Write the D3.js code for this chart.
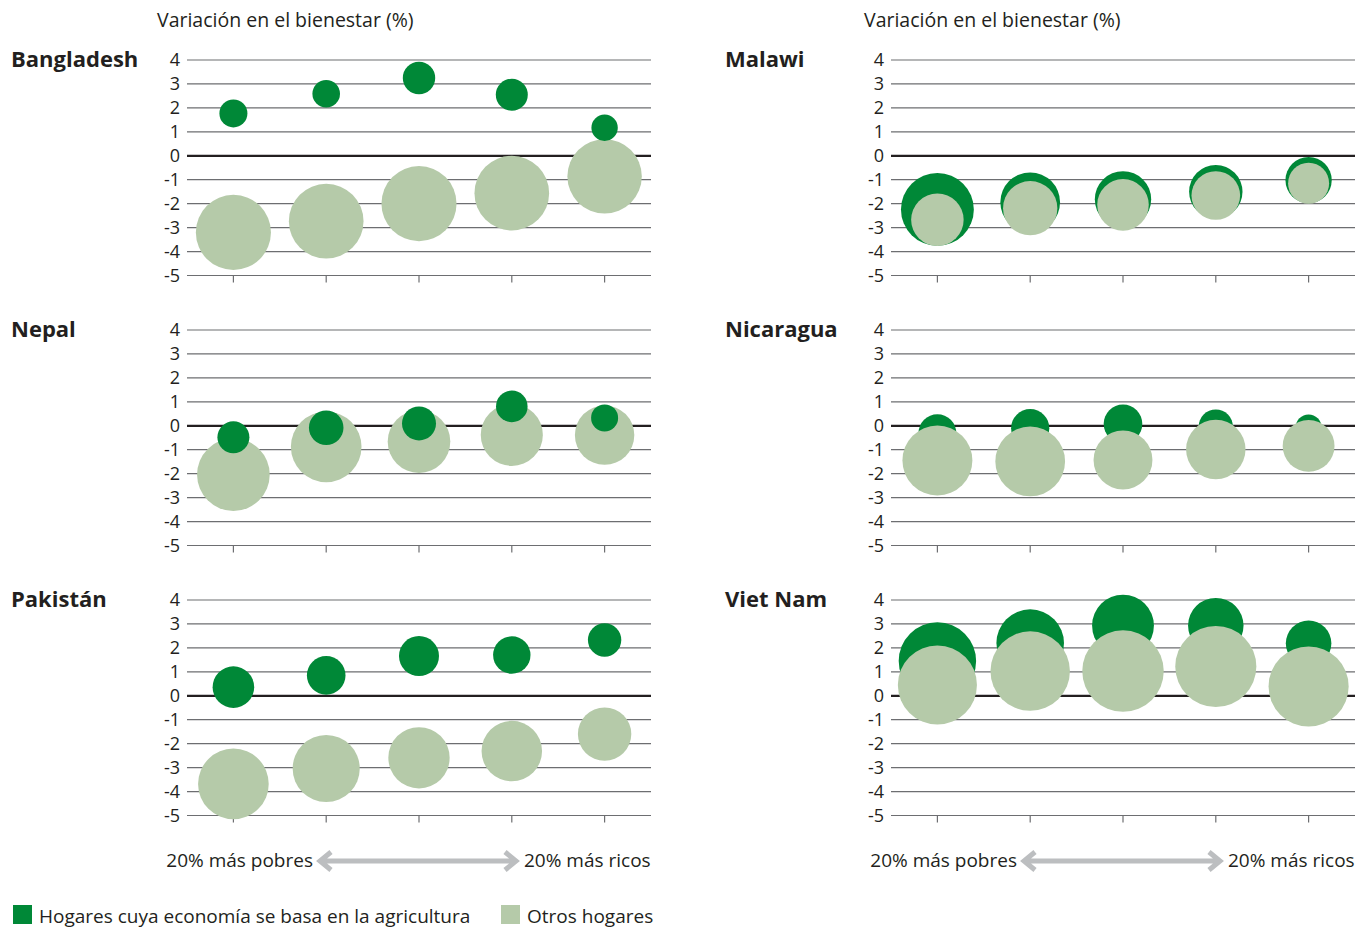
<!DOCTYPE html>
<html>
<head>
<meta charset="utf-8">
<script src="https://cdn.jsdelivr.net/npm/d3@7"></script>
<style>
  body { margin: 0; background: #fff; }
  text { fill: #231f20; font-family: "Open Sans", "Noto Sans", sans-serif; }
</style>
</head>
<body>
<div id="chart"></div>
<script>
//* ------------------------------ DATA ---------------------------------------- //
const countries = ["Bangladesh", "Nepal", "Pakistán", "Malawi", "Nicaragua", "Viet Nam"];
const quintiles = ["Q1", "Q2", "Q3", "Q4", "Q5"];
const yTicks = [4, 3, 2, 1, 0, -1, -2, -3, -4, -5];

// change in welfare (%), by quintile, poorest -> richest
const agriValues = [
  [1.77, 2.59, 3.25, 2.55, 1.17],
  [-0.48, -0.08, 0.10, 0.81, 0.33],
  [0.36, 0.85, 1.66, 1.70, 2.33],
  [-2.24, -1.94, -1.82, -1.50, -1.02],
  [-0.31, -0.10, 0.08, -0.04, -0.07],
  [1.45, 2.20, 2.93, 2.93, 2.19]
];
const otherValues = [
  [-3.20, -2.73, -2.00, -1.56, -0.86],
  [-2.04, -0.88, -0.66, -0.38, -0.39],
  [-3.68, -3.04, -2.59, -2.31, -1.60],
  [-2.67, -2.19, -2.05, -1.66, -1.15],
  [-1.45, -1.49, -1.43, -0.99, -0.84],
  [0.45, 1.03, 1.03, 1.22, 0.39]
];
// share of households (%) -> bubble area
const agriShares = [
  [2.42, 2.35, 3.24, 3.16, 2.15],
  [3.16, 3.69, 3.57, 3.08, 2.25],
  [5.34, 4.60, 4.94, 4.32, 3.44],
  [16.4, 11.0, 9.8, 8.8, 6.6],
  [4.41, 4.50, 4.60, 3.65, 2.09],
  [18.5, 14.1, 11.8, 9.5, 6.4]
];
const otherShares = [
  [17.4, 17.2, 17.4, 17.2, 17.1],
  [16.3, 15.4, 12.1, 11.9, 10.9],
  [15.4, 13.9, 11.6, 11.3, 8.8],
  [8.5, 9.1, 8.2, 7.3, 5.2],
  [15.1, 15.0, 10.7, 10.9, 8.3],
  [19.3, 19.5, 20.5, 20.3, 19.8]
];

const axisTitle = "Variación en el bienestar (%)";
const poorLabel = "20% más pobres";
const richLabel = "20% más ricos";
const legendLabels = ["Hogares cuya economía se basa en la agricultura", "Otros hogares"];

//* ------------------------------ CONSTANTS ----------------------------------- //
const width = 1362, height = 929;
const darkGreen = "#008837", lightGreen = "#b5caa9", arrowGrey = "#bcbec0";
const colX = [187, 891];        // left edge of plot area per column
const plotW = 464;
const rowY = [60, 330, 600];    // y of the "4" gridline per row
const plotH = 215.5;

const svg = d3.select("#chart").append("svg")
  .attr("width", width)
  .attr("height", height);

const x = d3.scaleBand().domain(quintiles).range([0, plotW]);
const y = d3.scaleLinear().domain([-5, 4]).range([plotH, 0]);
const r = d3.scaleSqrt().domain([0, 100]).range([0, 90]);

//* ------------------------------ FUNCTIONS ----------------------------------- //
function drawPanel(i) {
  const col = i < 3 ? 0 : 1;
  const row = i % 3;
  const g = svg.append("g")
    .attr("transform", `translate(${colX[col]},${rowY[row]})`);

  // country name
  g.append("text")
    .attr("x", col === 0 ? 11 - colX[0] : 725 - colX[1])
    .attr("y", 7)
    .style("font-weight", "bold")
    .style("font-size", "22px")
    .text(countries[i]);

  // gridlines
  g.selectAll("line.grid").data(yTicks).join("line")
    .attr("class", "grid")
    .attr("x1", 0).attr("x2", plotW)
    .attr("y1", d => y(d)).attr("y2", d => y(d))
    .attr("stroke", d => d === 0 ? "#231f20" : "#6d6e71")
    .attr("stroke-width", d => d === 0 ? 2.2 : 1.2);

  g.selectAll("text.tick").data(yTicks).join("text")
    .attr("class", "tick")
    .attr("x", -7)
    .attr("y", d => y(d))
    .attr("dy", "0.36em")
    .attr("text-anchor", "end")
    .style("font-size", "18px")
    .text(d => d);

  // small ticks under the -5 line
  g.selectAll("line.xtick").data(quintiles).join("line")
    .attr("class", "xtick")
    .attr("x1", d => x(d) + x.bandwidth() / 2)
    .attr("x2", d => x(d) + x.bandwidth() / 2)
    .attr("y1", y(-5)).attr("y2", y(-5) + 7)
    .attr("stroke", "#6d6e71")
    .attr("stroke-width", 1.2);

  const agri = quintiles.map((q, j) => ({q, v: agriValues[i][j], s: agriShares[i][j], c: darkGreen}));
  const other = quintiles.map((q, j) => ({q, v: otherValues[i][j], s: otherShares[i][j], c: lightGreen}));
  // left column: agricultural bubbles in front; right column: other households in front
  const layers = col === 0 ? [other, agri] : [agri, other];

  layers.forEach(layer => {
    g.append("g").selectAll("circle").data(layer).join("circle")
      .attr("cx", d => x(d.q) + x.bandwidth() / 2)
      .attr("cy", d => y(d.v))
      .attr("r", d => r(d.s))
      .attr("fill", d => d.c);
  });
}

function drawFooter(col) {
  const x0 = colX[col];
  const yMid = 861;
  svg.append("text")
    .attr("x", x0 + 126).attr("y", 867)
    .attr("text-anchor", "end")
    .style("font-size", "19px")
    .text(poorLabel);
  svg.append("text")
    .attr("x", x0 + 337).attr("y", 867)
    .style("font-size", "19px")
    .text(richLabel);

  const a0 = x0 + 131, a1 = x0 + 331;
  const path = d3.path();
  path.moveTo(a0 + 1, yMid); path.lineTo(a1 - 1, yMid);
  path.moveTo(a0 + 13, yMid - 9); path.lineTo(a0 + 2, yMid); path.lineTo(a0 + 13, yMid + 9);
  path.moveTo(a1 - 13, yMid - 9); path.lineTo(a1 - 2, yMid); path.lineTo(a1 - 13, yMid + 9);
  svg.append("path")
    .attr("d", path.toString())
    .attr("fill", "none")
    .attr("stroke", arrowGrey)
    .attr("stroke-width", 5)
    .attr("stroke-linejoin", "miter");
}

//* ------------------------------ DRAW ---------------------------------------- //
[157, 864].forEach(tx => {
  svg.append("text")
    .attr("x", tx).attr("y", 27)
    .style("font-size", "19.5px")
    .text(axisTitle);
});

countries.forEach((c, i) => drawPanel(i));
[0, 1].forEach(drawFooter);

// legend
const legend = svg.append("g");
[[13, darkGreen, legendLabels[0]], [501, lightGreen, legendLabels[1]]].forEach(([lx, c, t]) => {
  legend.append("rect").attr("x", lx).attr("y", 905).attr("width", 19).attr("height", 19).attr("fill", c);
  legend.append("text").attr("x", lx + 26).attr("y", 923).style("font-size", "19px").text(t);
});
</script>
</body>
</html>
